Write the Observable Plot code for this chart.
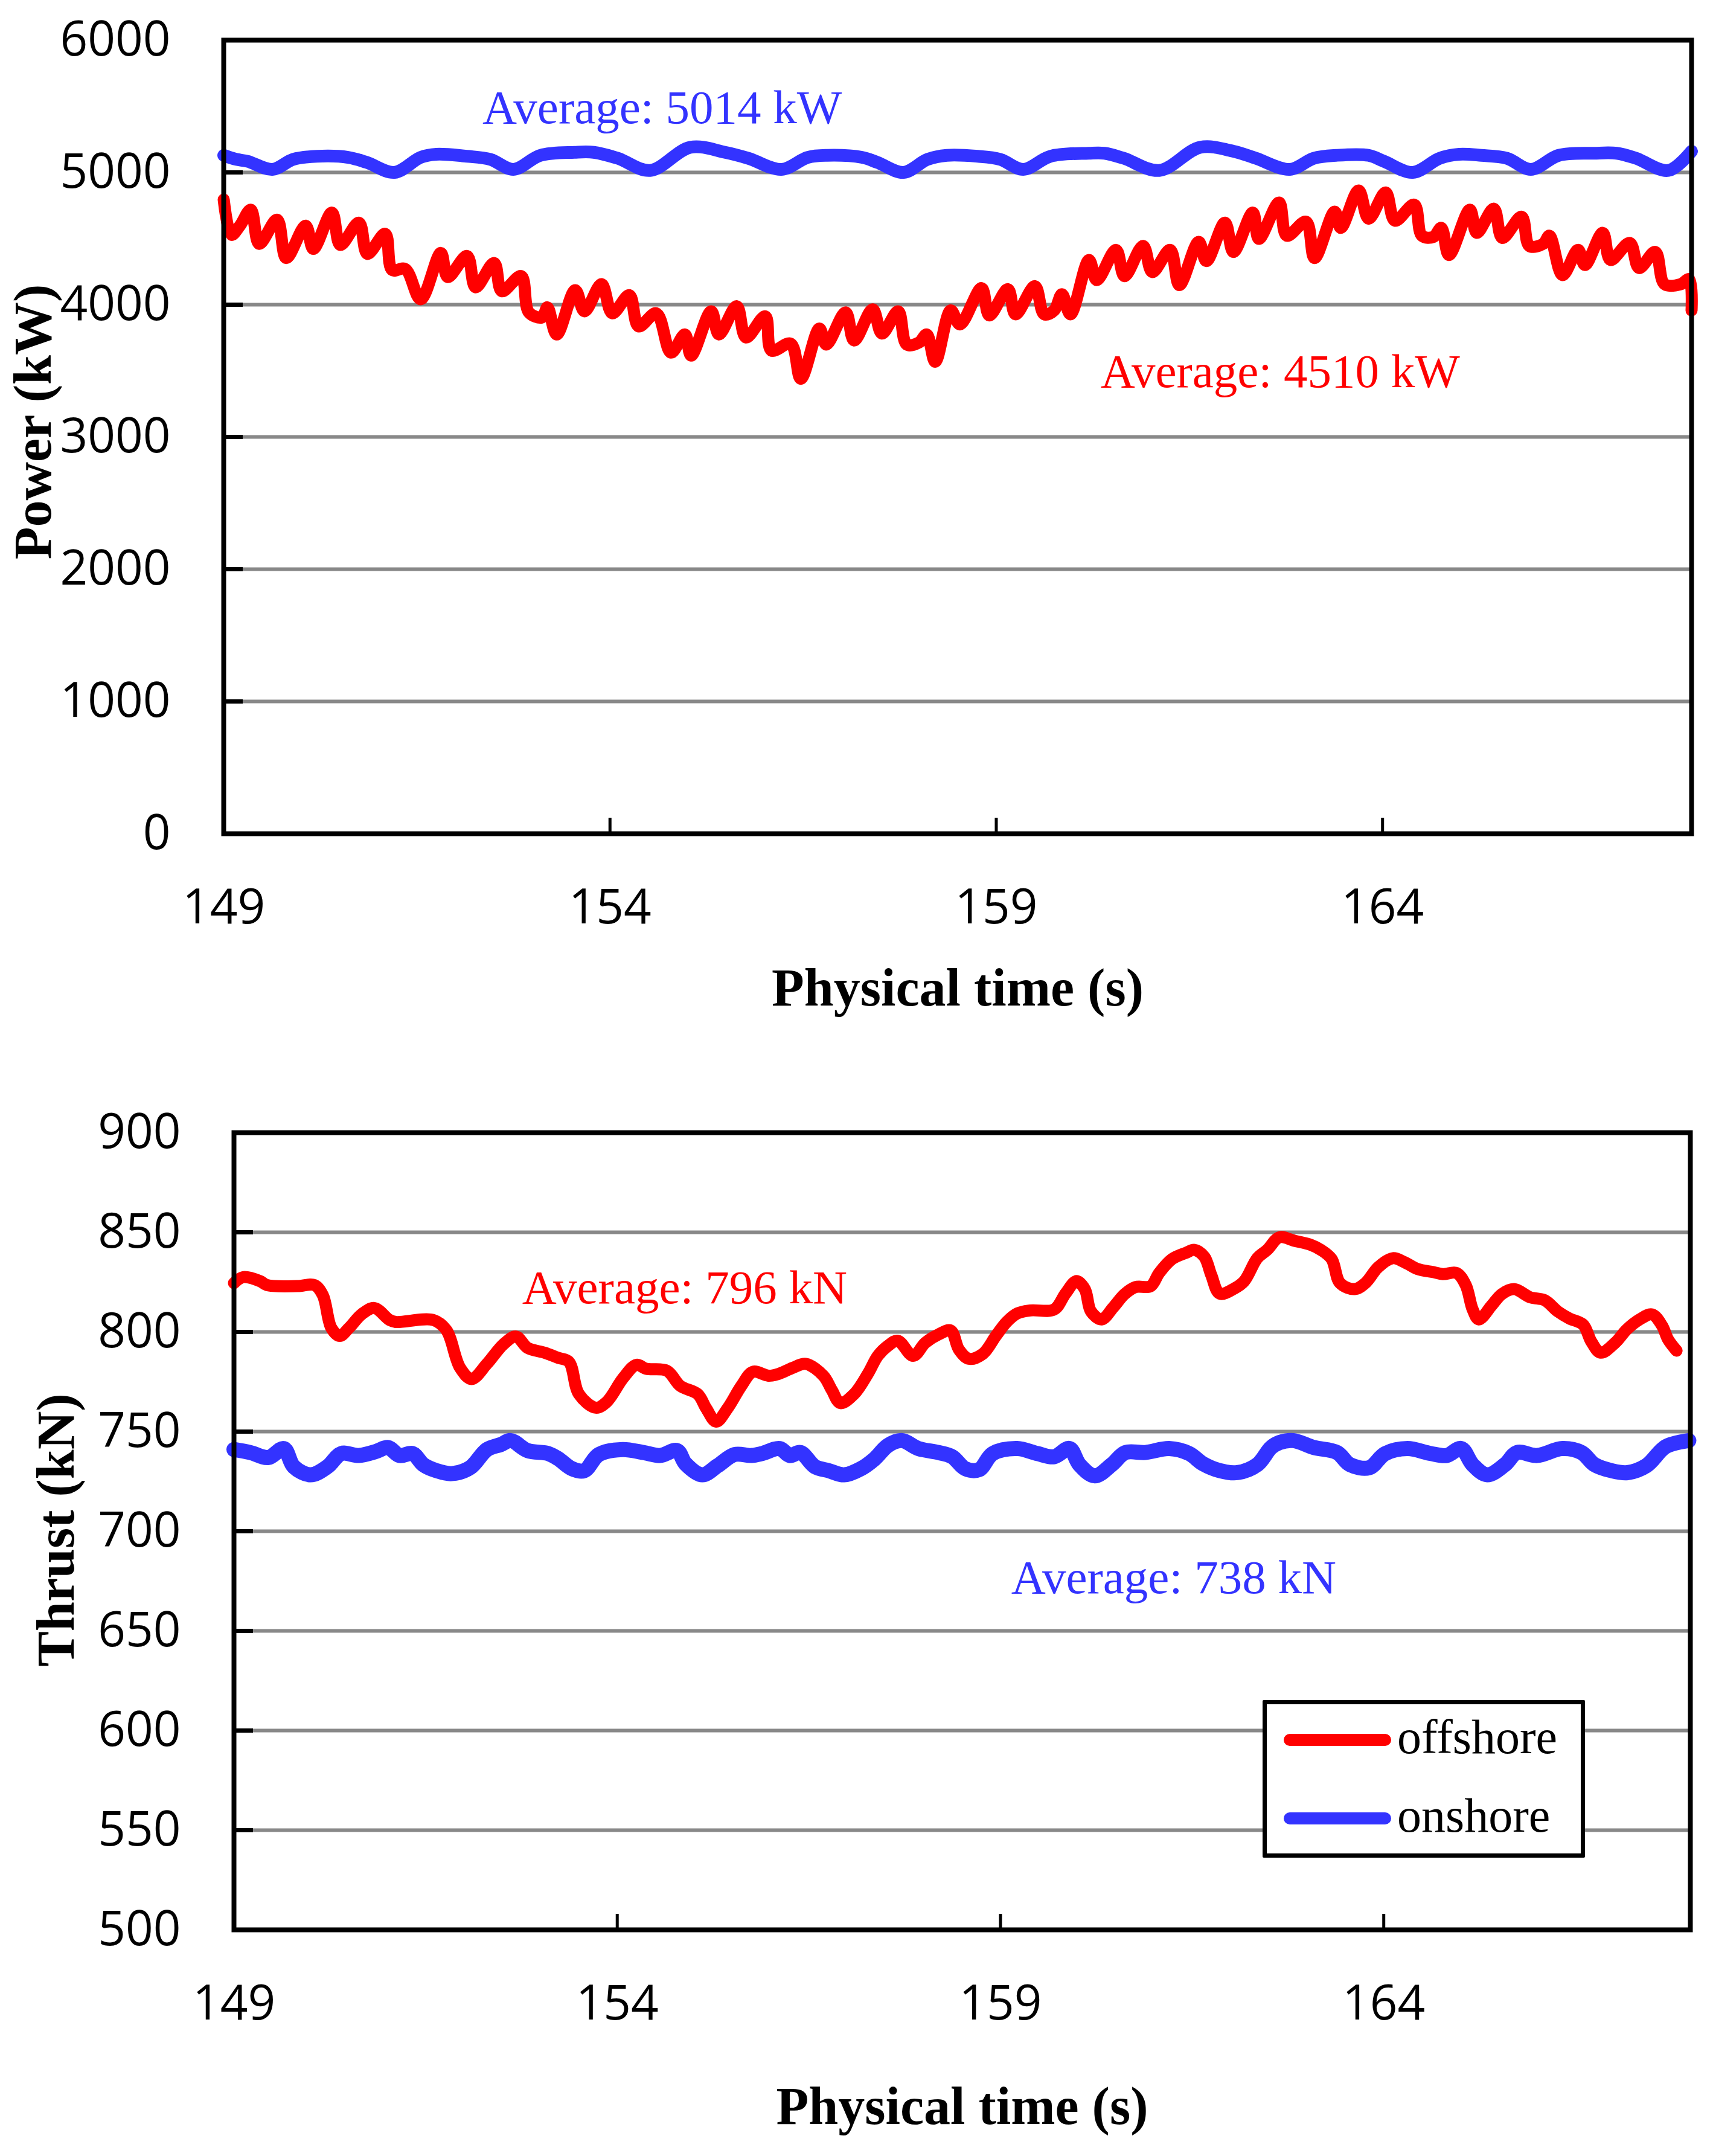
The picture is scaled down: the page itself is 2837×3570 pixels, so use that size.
<!DOCTYPE html>
<html>
<head>
<meta charset="utf-8">
<script src="https://cdn.jsdelivr.net/npm/d3@7"></script>
<script src="https://cdn.jsdelivr.net/npm/@observablehq/plot@0.6"></script>
<style>
  html, body { margin: 0; padding: 0; background: #fff; }
  #wrap { position: relative; width: 2837px; height: 3570px; background: #fff; }
  #wrap svg { display: block; }
  .legend { position: absolute; left: 2091px; top: 2815px; width: 534px; height: 261px;
            border: 7px solid #000; box-sizing: border-box; background: #fff; border-radius: 2px; }
  .lg-line { position: absolute; height: 20px; border-radius: 10px; }
  .lg-text { position: absolute; font-family: 'Liberation Serif', 'Times New Roman', serif;
             font-size: 80px; line-height: 80px; color: #000; white-space: nowrap; }
</style>
</head>
<body>
<div id="wrap"></div>
<script>
// ---------------- data ----------------
const seriesNames = ["offshore", "onshore"];
const seriesColors = ["#ff0000", "#3333ff"];

const xTicks = [149, 154, 159, 164];
const powerTicks = [0, 1000, 2000, 3000, 4000, 5000, 6000];
const thrustTicks = [500, 550, 600, 650, 700, 750, 800, 850, 900];

// Power, offshore (time s, kW)
const powerOffT = [149.00,149.10,149.21,149.35,149.46,149.69,149.81,150.06,150.16,150.40,150.51,150.75,150.86,151.09,151.18,151.35,151.55,151.81,151.90,152.15,152.26,152.50,152.60,152.85,152.95,153.12,153.19,153.31,153.55,153.67,153.89,154.03,154.25,154.37,154.60,154.79,154.97,155.05,155.31,155.41,155.64,155.76,156.01,156.09,156.34,156.47,156.71,156.80,157.05,157.16,157.40,157.52,157.73,157.84,158.00,158.10,158.21,158.41,158.53,158.81,158.91,159.15,159.25,159.50,159.62,159.75,159.85,159.96,160.20,160.30,160.55,160.66,160.90,161.02,161.25,161.37,161.62,161.72,161.96,162.07,162.32,162.40,162.66,162.76,163.01,163.12,163.38,163.46,163.69,163.82,164.04,164.16,164.41,164.51,164.66,164.76,164.86,165.13,165.22,165.44,165.55,165.80,165.90,166.08,166.16,166.33,166.53,166.62,166.85,166.95,167.20,167.32,167.53,167.65,167.86,167.97,168.00];
const powerOffV = [4795,4528,4597,4718,4460,4642,4353,4597,4422,4696,4452,4620,4384,4536,4262,4270,4041,4391,4209,4368,4132,4315,4102,4216,3942,3904,3980,3775,4110,3950,4155,3935,4072,3836,3935,3638,3775,3615,3950,3775,3988,3752,3912,3653,3705,3440,3820,3699,3942,3729,3965,3782,3950,3699,3714,3775,3569,3957,3851,4125,3919,4117,3927,4140,3927,3957,4079,3927,4338,4186,4414,4216,4444,4247,4414,4148,4475,4330,4620,4399,4696,4498,4772,4521,4627,4353,4703,4581,4863,4650,4848,4635,4756,4521,4513,4581,4376,4718,4543,4726,4505,4665,4444,4460,4521,4224,4414,4300,4543,4338,4467,4277,4399,4155,4155,4193,3957];

// Power, onshore (time s, kW)
const powerOnT = [149.00,149.16,149.31,149.63,149.90,150.21,150.61,150.85,151.21,151.55,151.75,152.15,152.45,152.75,153.10,153.54,153.79,154.10,154.52,155.04,155.49,155.79,156.22,156.56,156.81,157.26,157.46,157.80,158.11,158.36,158.76,159.05,159.35,159.70,160.20,160.40,160.65,161.11,161.64,162.07,162.36,162.80,163.11,163.40,163.82,164.02,164.39,164.74,164.99,165.28,165.61,165.92,166.28,166.74,167.03,167.28,167.70,168.00];
const powerOnV = [5129,5099,5084,5023,5099,5122,5114,5076,5000,5114,5137,5122,5099,5023,5129,5152,5152,5107,5015,5190,5152,5107,5023,5114,5129,5114,5076,5000,5099,5129,5122,5099,5023,5122,5145,5145,5107,5015,5190,5160,5107,5023,5107,5129,5129,5084,5000,5107,5137,5129,5107,5023,5129,5145,5145,5107,5015,5160];

// Thrust, offshore (time s, kN)
const thrustOffT = [149.00,149.12,149.34,149.43,149.83,150.05,150.16,150.27,150.38,150.50,150.67,150.83,151.03,151.11,151.60,151.77,151.95,152.10,152.30,152.52,152.68,152.83,153.05,153.23,153.37,153.50,153.72,153.86,154.08,154.25,154.38,154.65,154.82,155.05,155.16,155.29,155.44,155.62,155.77,155.98,156.11,156.29,156.46,156.69,156.80,156.91,157.09,157.27,157.40,157.53,157.66,157.86,158.02,158.19,158.35,158.46,158.59,158.77,158.94,159.08,159.22,159.39,159.70,159.85,159.99,160.10,160.18,160.32,160.47,160.62,160.76,160.96,161.07,161.24,161.42,161.53,161.66,161.75,161.86,162.05,162.18,162.35,162.48,162.64,162.84,163.05,163.18,163.32,163.43,163.62,163.76,163.93,164.12,164.27,164.44,164.65,164.77,164.95,165.07,165.16,165.24,165.41,165.54,165.70,165.91,166.10,166.27,166.42,166.60,166.71,166.83,167.02,167.17,167.34,167.50,167.63,167.71,167.82];
const thrustOffV = [824.5,827.5,825.5,823.5,823,823.5,818.4,802,798,802,809,812,806,805,806,801,782,776.4,784,794,797.7,792,789.6,787,785,768.8,762,764.8,777,783.5,781.5,780.5,773,768.8,761.7,755,761.7,773,780,778,779,782,784,778,770.8,764.3,768.8,779,788,793,795.6,788,794.6,798.7,800.7,791,786.5,789,798,805,809.3,810.8,811.3,819.4,825.5,821.5,810.3,806.3,812.3,819,822.5,823,829.6,836.6,839.7,841.2,837.7,828.5,819.2,821.8,825.5,837,841.2,847.5,845.7,843.7,841.2,836.6,824.5,821.5,824.5,832.6,837,835,831.6,830,829,829.6,823.5,811.3,806.3,813.4,819,821.5,817.4,815.9,810.3,806.8,803.7,795,789.6,794.6,801.2,806.3,808.8,803.2,796.2,790.6];

// Thrust, onshore (time s, kN)
const thrustOnT = [149.00,149.21,149.45,149.65,149.78,150.00,150.22,150.40,150.63,150.85,151.01,151.16,151.33,151.47,151.64,151.84,152.08,152.30,152.48,152.61,152.83,153.10,153.23,153.41,153.57,153.76,154.07,154.34,154.56,154.78,154.89,155.11,155.31,155.53,155.75,155.89,156.12,156.25,156.39,156.58,156.76,156.96,157.18,157.36,157.53,157.71,157.93,158.19,158.37,158.54,158.72,158.90,159.22,159.48,159.70,159.90,160.03,160.23,160.45,160.63,160.89,161.20,161.46,161.64,161.86,162.09,162.35,162.53,162.64,162.82,163.09,163.39,163.56,163.81,164.02,164.31,164.61,164.82,165.01,165.16,165.35,165.58,165.74,166.00,166.33,166.58,166.75,166.97,167.18,167.43,167.68,167.98];
const thrustOnV = [741,739.5,737,741.5,732.4,728.3,732.4,739,738,740,742,738,739,733.4,730.4,728.9,731.9,741,743.5,745.5,740.5,739,736.4,731.4,730.4,738.5,741,739.5,738,740.5,733.9,728.3,732.9,738.5,738,739,741.5,738,739.5,732.4,730.4,728.3,731.4,736.4,743,745.5,741.5,739.5,737.4,731.4,730.9,739,741.5,739,737.4,741.5,733.4,727.8,733.4,739.5,739.5,741.5,739,733.9,730.4,729.4,733.4,742,744.5,745.5,742,739.5,733.4,731.9,739,741.5,739,738,741.5,733.4,728.3,733.4,739.5,738,741.5,739.5,733.4,730.4,729.4,733,742.5,745.5];

// Annotations (text, anchor time, anchor value, series index)
const powerAnnText = ["Average: 5014 kW", "Average: 4510 kW"];
const powerAnnT = [152.35, 160.35];
const powerAnnV = [5489, 3493];
const powerAnnSeries = [1, 0];

const thrustAnnText = ["Average: 796 kN", "Average: 738 kN"];
const thrustAnnT = [152.76, 159.14];
const thrustAnnV = [822.1, 676.7];
const thrustAnnSeries = [0, 1];

const xLabel = "Physical time (s)";
const powerLabel = "Power (kW)";
const thrustLabel = "Thrust (kN)";

// ---------------- build ----------------
const pts = (T, V) => T.map((t, i) => ({t, v: V[i]}));
const ann = (txt, T, V, S) => txt.map((s, i) => ({text: s, t: T[i], v: V[i], c: seriesColors[S[i]]}));

const SANS = "'Open Sans', 'Noto Sans', sans-serif";
const SERIF = "'Liberation Serif', 'Times New Roman', serif";
const W = 2837;
const fmt = d => String(d);

function panel({height, mt, mb, ml, mr, yDomain, yTicks, off, on, onWidth, annotations, yLabel, yLabDx, yLabDy, xLabDy}) {
  const plotW = W - ml - mr;
  const plotH = height - mt - mb;
  return Plot.plot({
    width: W, height,
    marginTop: mt, marginBottom: mb, marginLeft: ml, marginRight: mr,
    x: {domain: [149, 168]},
    y: {domain: yDomain},
    style: {fontFamily: SANS, fontSize: "80px", background: "#fff", overflow: "visible", color: "#000"},
    marks: [
      Plot.ruleY(yTicks, {stroke: "#888888", strokeWidth: 6}),
      Plot.tickY(yTicks, {y: d => d, stroke: "#000", strokeWidth: 7, insetRight: plotW - 32}),
      Plot.tickX(xTicks, {x: d => d, stroke: "#000", strokeWidth: 5, insetTop: plotH - 26}),
      Plot.line(on, {x: "t", y: "v", stroke: seriesColors[1], strokeWidth: onWidth, curve: "catmull-rom", strokeLinejoin: "round", strokeLinecap: "round"}),
      Plot.line(off, {x: "t", y: "v", stroke: seriesColors[0], strokeWidth: 20, curve: "catmull-rom", strokeLinejoin: "round", strokeLinecap: "round"}),
      Plot.frame({stroke: "#000", strokeWidth: 8}),
      Plot.axisY(yTicks, {tickSize: 0, tickPadding: 88, fontSize: 80, fontFamily: SANS, label: null, tickFormat: fmt}),
      Plot.axisX(xTicks, {tickSize: 0, tickPadding: 92, fontSize: 80, fontFamily: SANS, label: null, tickFormat: fmt}),
      Plot.text([yLabel], {text: d => d, frameAnchor: "left", rotate: -90, dx: yLabDx, dy: yLabDy,
        fontFamily: SERIF, fontWeight: "bold", fontSize: 88, lineAnchor: "middle", textAnchor: "middle", fill: "#000"}),
      Plot.text([xLabel], {text: d => d, frameAnchor: "bottom", dy: xLabDy,
        fontFamily: SERIF, fontWeight: "bold", fontSize: 88, lineAnchor: "middle", textAnchor: "middle", fill: "#000"}),
      Plot.text(annotations, {x: "t", y: "v", text: "text", fill: d => d.c, textAnchor: "start", lineAnchor: "middle",
        fontFamily: SERIF, fontSize: 79})
    ]
  });
}

const wrap = document.getElementById("wrap");

const topChart = panel({
  height: 1760, mt: 66, mb: 380, ml: 370, mr: 36,
  yDomain: [0, 6000], yTicks: powerTicks,
  off: pts(powerOffT, powerOffV), on: pts(powerOnT, powerOnV), onWidth: 21,
  annotations: ann(powerAnnText, powerAnnT, powerAnnV, powerAnnSeries),
  yLabel: powerLabel, yLabDx: -315, yLabDy: -25, xLabDy: 256
});
wrap.appendChild(topChart);

const bottomChart = panel({
  height: 1810, mt: 115, mb: 375, ml: 387, mr: 38,
  yDomain: [500, 900], yTicks: thrustTicks,
  off: pts(thrustOffT, thrustOffV), on: pts(thrustOnT, thrustOnV), onWidth: 25,
  annotations: ann(thrustAnnText, thrustAnnT, thrustAnnV, thrustAnnSeries),
  yLabel: thrustLabel, yLabDx: -294, yLabDy: -2, xLabDy: 293
});
wrap.appendChild(bottomChart);

// legend (inside the bottom panel, lower right)
const legend = document.createElement("div");
legend.className = "legend";
wrap.appendChild(legend);
const legendRows = [2881, 3011];
seriesNames.forEach((name, i) => {
  const line = document.createElement("div");
  line.className = "lg-line";
  line.style.left = "2126px";
  line.style.width = "178px";
  line.style.top = (legendRows[i] - 10) + "px";
  line.style.background = seriesColors[i];
  wrap.appendChild(line);
  const txt = document.createElement("div");
  txt.className = "lg-text";
  txt.style.left = "2314px";
  txt.style.top = (legendRows[i] + 22 - 67) + "px";
  txt.textContent = name;
  wrap.appendChild(txt);
});
</script>
</body>
</html>
